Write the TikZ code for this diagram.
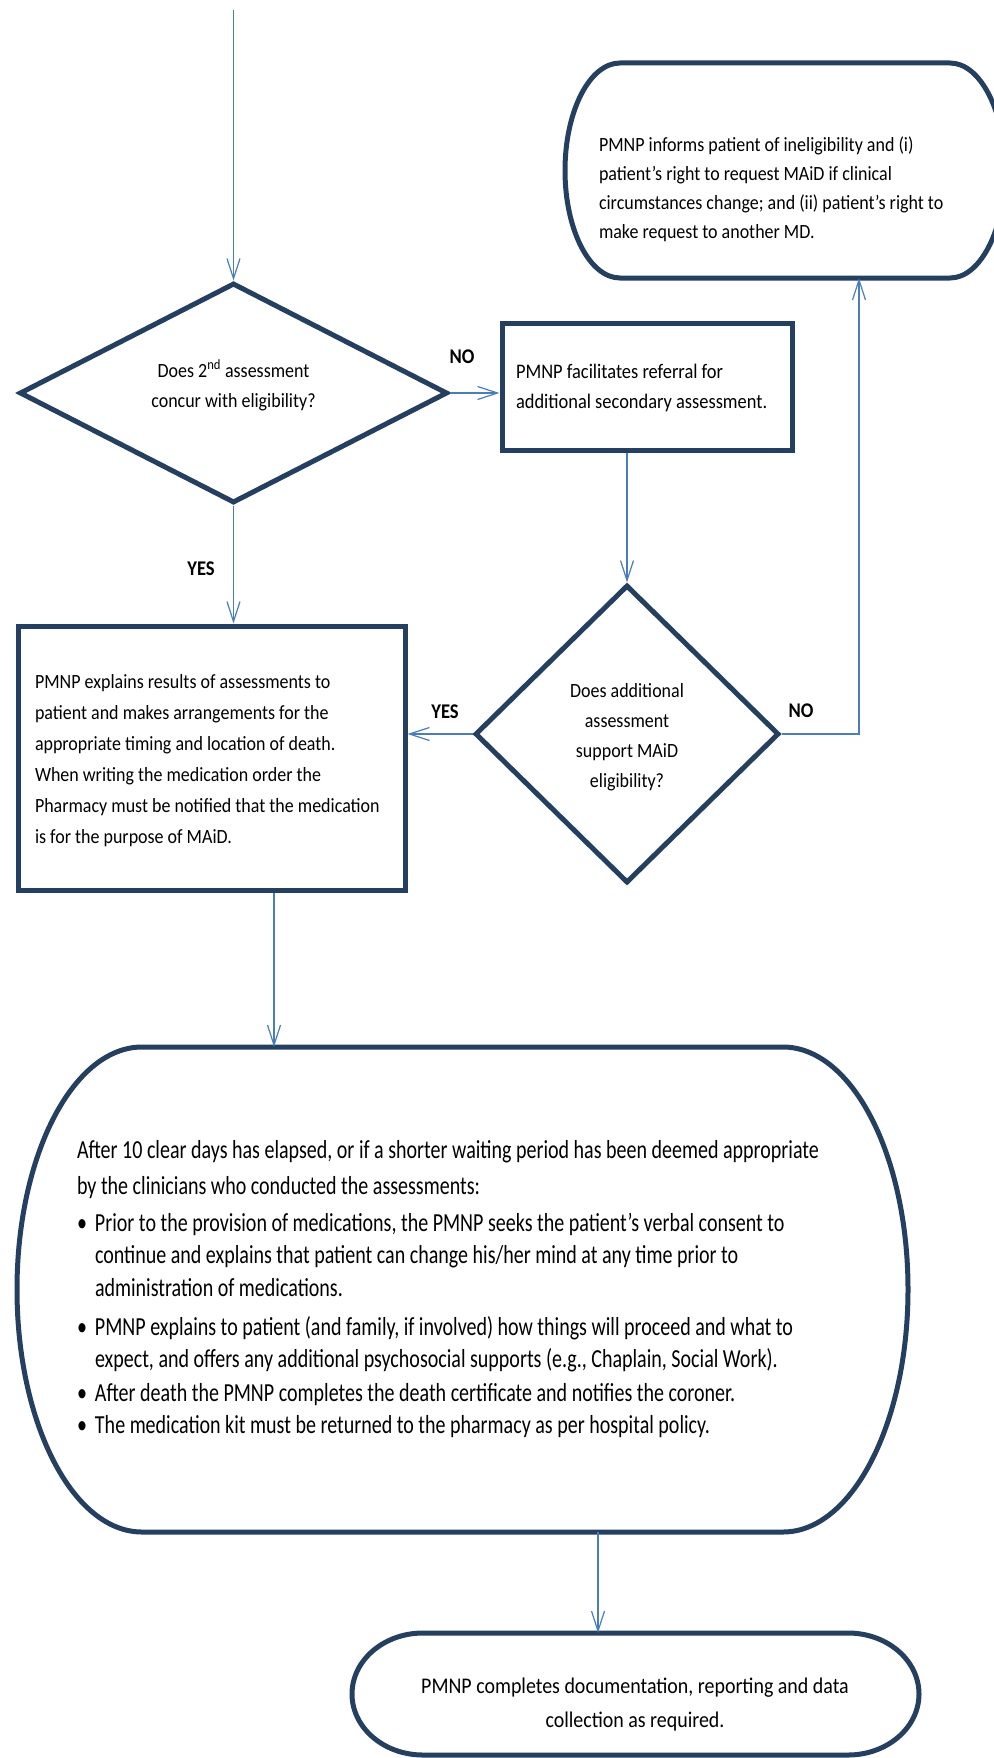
\documentclass[tikz,border=0pt]{standalone}
\usepackage{fontspec}
\setmainfont{Carlito}
\newfontfamily\fA[FakeStretch=0.89]{Carlito}
\newfontfamily\fB[FakeStretch=0.77]{Carlito}
\usetikzlibrary{shapes.geometric,arrows.meta}
\definecolor{navy}{RGB}{36,63,96}
\definecolor{linkblue}{RGB}{74,126,187}
\newcommand\fsz[2]{\fontsize{#1}{#2}\selectfont}
\begin{document}
\begin{tikzpicture}[x=1pt,y=-1pt,
  frame/.style={draw=navy,line width=5pt},
  holder/.style={inner sep=0pt,outer sep=0pt},
  arr/.style={draw=linkblue,line width=1.2pt,-{Straight Barb[length=20pt,width=13pt]}},
  txt/.style={inner sep=0pt,outer sep=0pt,text=black},
  lbl/.style={inner sep=0pt,font=\fA\fsz{20.9}{24}\bfseries,anchor=base}]
\fill[white] (0,0) rectangle (993,1758);
\useasboundingbox (0,0) rectangle (993,1758);

% ---------- shapes ----------
\node[holder,minimum width=440pt,minimum height=215pt] (tr) at (785,170.5) {};
\draw[frame] ([xshift=55pt]tr.north west) -- ([xshift=-55pt]tr.north east)
  arc[start angle=90,end angle=-90,x radius=55pt,y radius=107.5pt]
  -- ([xshift=55pt]tr.south west)
  arc[start angle=270,end angle=90,x radius=55pt,y radius=107.5pt] -- cycle;

\node[diamond,frame,inner sep=0pt,minimum width=428pt,minimum height=220pt] (d1) at (233.5,393) {};
\node[rectangle,frame,inner sep=0pt,minimum width=290pt,minimum height=127pt] (b2) at (647,386.5) {};
\node[diamond,frame,inner sep=0pt,minimum width=304pt,minimum height=298pt] (d2) at (627,734) {};
\node[rectangle,frame,inner sep=0pt,minimum width=387pt,minimum height=264pt] (b3) at (211.5,758) {};

\node[holder,minimum width=891pt,minimum height=485pt] (bb) at (462.5,1289.5) {};
\draw[frame] ([xshift=125pt]bb.north west) -- ([xshift=-125pt]bb.north east)
  arc[start angle=90,end angle=-90,x radius=125pt,y radius=242.5pt]
  -- ([xshift=125pt]bb.south west)
  arc[start angle=270,end angle=90,x radius=125pt,y radius=242.5pt] -- cycle;

\node[holder,minimum width=567pt,minimum height=122pt] (fb) at (635.5,1694) {};
\draw[frame] ([xshift=71pt]fb.north west) -- ([xshift=-71pt]fb.north east)
  arc[start angle=90,end angle=-90,x radius=71pt,y radius=61pt]
  -- ([xshift=71pt]fb.south west)
  arc[start angle=270,end angle=90,x radius=71pt,y radius=61pt] -- cycle;

% ---------- texts ----------
\node[txt,anchor=north west,align=left,font=\fA\fsz{20.2}{28.7}] (trt) at (599,131.9)
 {\strut PMNP informs patient of ineligibility and (i)\\
  patient’s right to request MAiD if clinical\\
  circumstances change; and (ii) patient’s right to\\
  make request to another MD.};

\node[txt,anchor=north,align=center,font=\fA\fsz{20.2}{30}] (d1t) at (233.5,356)
 {\strut Does 2\textsuperscript{nd} assessment\\ concur with eligibility?};

\node[txt,anchor=north west,align=left,font=\fA\fsz{20.7}{30}] (b2t) at (516,357)
 {\strut PMNP facilitates referral for\\ additional secondary assessment.};

\node[txt,anchor=north,align=center,font=\fA\fsz{20.2}{30.3}] (d2t) at (627,675.8)
 {\strut Does additional\\ assessment\\ support MAiD\\ eligibility?};

\node[txt,anchor=north west,align=left,font=\fA\fsz{20.2}{31}] (b3t) at (35,666.3)
 {\strut PMNP explains results of assessments to\\
  patient and makes arrangements for the\\
  appropriate timing and location of death.\\
  When writing the medication order the\\
  Pharmacy must be notified that the medication\\
  is for the purpose of MAiD.};

\node[txt,anchor=north west,align=left,font=\fB\fsz{26}{32.5}] (bbt) at (77,1135.25)
 {\strut After 10 clear days has elapsed, or if a shorter waiting period has been deemed appropriate\\[3.5pt]
  by the clinicians who conducted the assessments:\\[4.5pt]
  \makebox[18pt][l]{•}Prior to the provision of medications, the PMNP seeks the patient’s verbal consent to\\
  \hspace*{18pt}continue and explains that patient can change his/her mind at any time prior to\\
  \hspace*{18pt}administration of medications.\\[6.5pt]
  \makebox[18pt][l]{•}PMNP explains to patient (and family, if involved) how things will proceed and what to\\
  \hspace*{18pt}expect, and offers any additional psychosocial supports (e.g., Chaplain, Social Work).\\[1.5pt]
  \makebox[18pt][l]{•}After death the PMNP completes the death certificate and notifies the coroner.\\[-0.5pt]
  \makebox[18pt][l]{•}The medication kit must be returned to the pharmacy as per hospital policy.};

\node[txt,anchor=north,align=center,font=\fA\fsz{22.4}{34}] (fbt) at (635,1669.2)
 {\strut PMNP completes documentation, reporting and data\\ collection as required.};

% ---------- labels ----------
\node[lbl] (no1) at (462,363) {NO};
\node[lbl] (yes1) at (201,575) {YES};
\node[lbl] (yes2) at (445,718) {YES};
\node[lbl] (no2) at (801,717) {NO};

% ---------- connectors ----------
\coordinate (start) at (233.5,10);
\coordinate (nocorner) at (859,734);
\coordinate (xb3) at (274,0);
\coordinate (xbb) at (598,0);

\draw[arr] (start) -- (d1.north);
\draw[arr] (d1.east) -- (d1.east -| b2.west);
\draw[arr] (b2.south -| d2.north) -- (d2.north);
\draw[arr] (d2.west) -- (d2.west -| b3.east);
\draw[arr] (d2.east) -- (nocorner) -- (nocorner |- tr.south);
\draw[arr] (d1.south) -- (d1.south |- b3.north);
\draw[arr] (b3.south -| xb3) -- (xb3 |- bb.north);
\draw[arr] (bb.south -| xbb) -- (xbb |- fb.north);
\end{tikzpicture}
\end{document}
